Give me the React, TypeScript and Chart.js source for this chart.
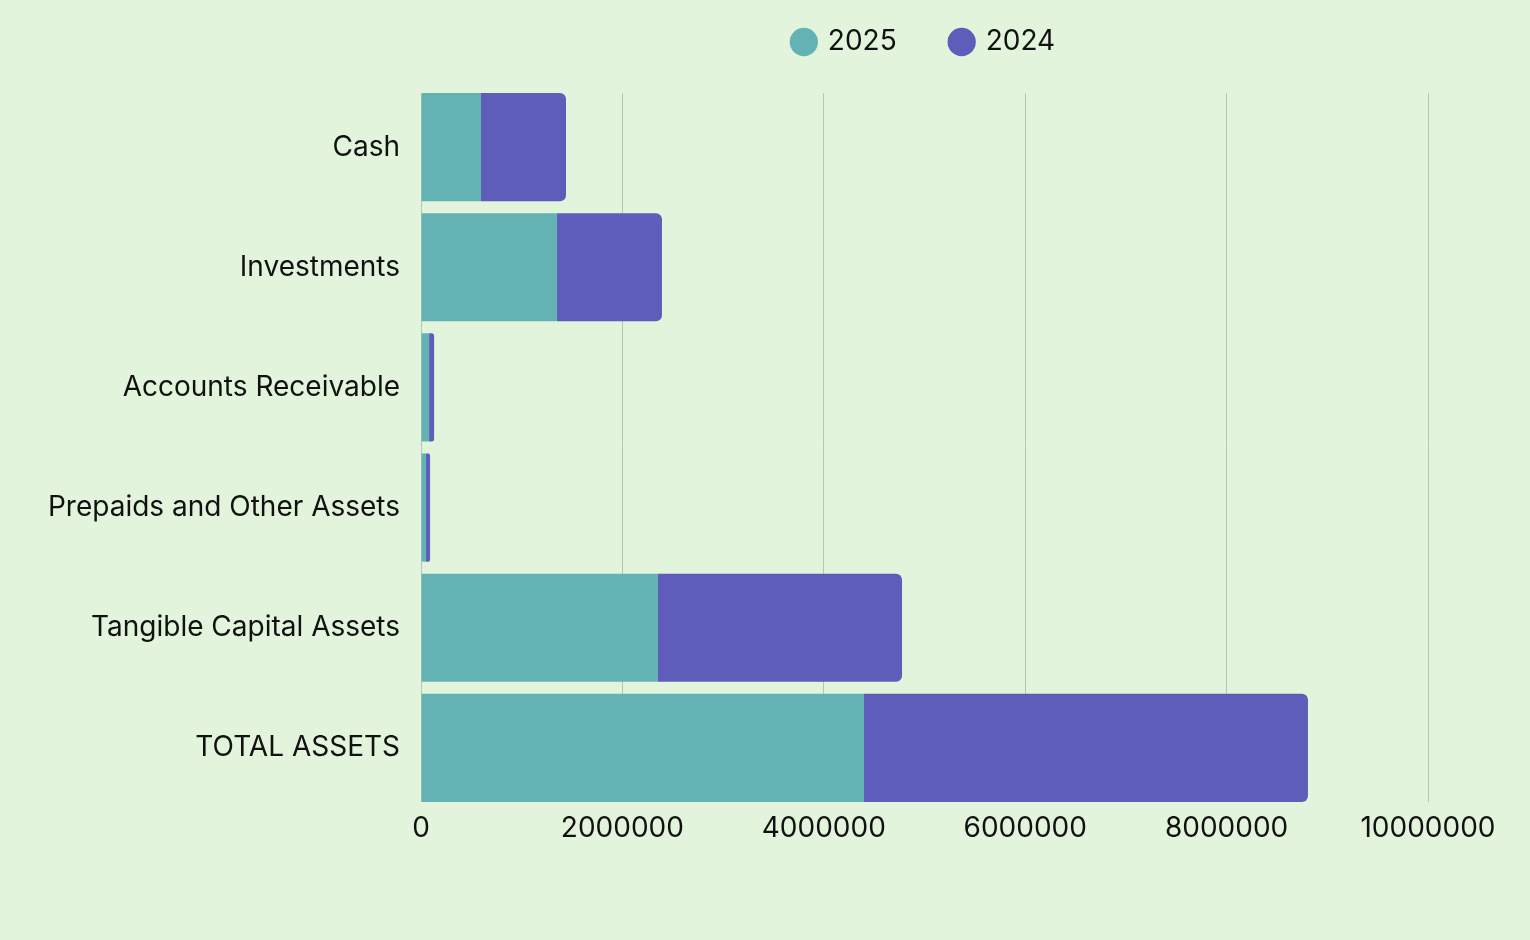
import React, { useEffect, useRef } from "react";
import { Chart, registerables } from "chart.js";

Chart.register(...registerables);

const categories = [
  "Cash",
  "Investments",
  "Accounts Receivable",
  "Prepaids and Other Assets",
  "Tangible Capital Assets",
  "TOTAL ASSETS",
];
const values2025 = [596000, 1350000, 80000, 50000, 2353000, 4399000];
const values2024 = [844000, 1043000, 50000, 40000, 2424000, 4409000];
const xTicks = [0, 2000000, 4000000, 6000000, 8000000, 10000000];

const BG = "#E2F4DB";
const TEAL = "#63B3B5";
const PURPLE = "#5E5DBA";
const GRID = "#B5C7B1";
const FONT = "Inter";
const FS = 28;

export default function App() {
  const ref = useRef<HTMLCanvasElement | null>(null);

  useEffect(() => {
    document.body.style.margin = "0";
    const bgPlugin = {
      id: "bg",
      beforeDraw(chart: any) {
        const { ctx, width, height } = chart;
        ctx.save();
        ctx.fillStyle = BG;
        ctx.fillRect(0, 0, width, height);
        ctx.restore();
      },
    };
    const legendGap = {
      id: "legendGap",
      beforeLayout(chart: any) {
        const lg = chart.legend;
        if (lg && !lg._gapPatched) {
          const orig = lg.fit;
          lg.fit = function () {
            orig.call(this);
            this.height += 21;
            this.width -= 10;
          };
          lg._gapPatched = true;
        }
      },
    };
    // vertical grid lines spanning from the top of the first bar to the bottom of the last bar
    const barGrid = {
      id: "barGrid",
      beforeDatasetsDraw(chart: any) {
        const xs = chart.scales.x;
        const meta = chart.getDatasetMeta(0);
        if (!meta || !meta.data.length) return;
        const first = meta.data[0].getProps(["y", "height"], true);
        const last = meta.data[meta.data.length - 1].getProps(["y", "height"], true);
        const top = first.y - first.height / 2;
        const bottom = last.y + last.height / 2;
        const ctx = chart.ctx;
        ctx.save();
        ctx.strokeStyle = GRID;
        ctx.lineWidth = 1;
        xs.ticks.forEach((t: any) => {
          const px = Math.floor(xs.getPixelForValue(t.value)) + 0.5;
          ctx.beginPath();
          ctx.moveTo(px, top);
          ctx.lineTo(px, bottom);
          ctx.stroke();
        });
        ctx.restore();
      },
    };
    const chart = new Chart(ref.current as HTMLCanvasElement, {
      type: "bar",
      data: {
        labels: categories,
        datasets: [
          {
            label: "2025",
            data: values2025,
            backgroundColor: TEAL,
            borderRadius: 0,
            borderSkipped: false,
            barPercentage: 0.9,
            categoryPercentage: 1,
          },
          {
            label: "2024",
            data: values2024,
            backgroundColor: PURPLE,
            borderRadius: { topRight: 6, bottomRight: 6, topLeft: 0, bottomLeft: 0 },
            borderSkipped: false,
            barPercentage: 0.9,
            categoryPercentage: 1,
          },
        ],
      },
      options: {
        indexAxis: "y",
        animation: false,
        responsive: false,
        maintainAspectRatio: false,
        layout: { padding: { top: -27, right: 102, bottom: 92, left: 0 } },
        plugins: {
          legend: {
            position: "top",
            fullSize: false,
            labels: {
              usePointStyle: true,
              pointStyle: "circle",
              boxWidth: 20,
              boxHeight: 20,
              padding: 55,
              color: "#111111",
              font: { family: FONT, size: FS },
            },
          },
          tooltip: { enabled: false },
        },
        scales: {
          x: {
            stacked: true,
            min: 0,
            max: 10000000,
            afterBuildTicks: (scale: any) => {
              scale.ticks = xTicks.map((v) => ({ value: v }));
            },
            afterFit: (scale: any) => {
              scale.height = 40;
              scale.paddingLeft = 0;
              scale.paddingRight = 0;
            },
            ticks: {
              color: "#111111",
              font: { family: FONT, size: FS },
              padding: 4,
              maxRotation: 0,
              autoSkip: false,
              callback: (v: any) => String(v),
            },
            grid: { display: true, drawOnChartArea: false, drawTicks: false },
            border: { display: false },
          },
          y: {
            stacked: true,
            afterFit: (scale: any) => {
              scale.width = 421;
            },
            ticks: {
              color: "#111111",
              font: { family: FONT, size: FS },
              padding: 21,
            },
            grid: { display: false, drawTicks: false },
            border: { display: false },
          },
        },
      },
      plugins: [bgPlugin, legendGap, barGrid],
    });
    return () => chart.destroy();
  }, []);

  return (
    <div style={{ width: 1530, height: 940 }}>
      <canvas ref={ref} width={1530} height={940} style={{ display: "block" }} />
    </div>
  );
}
